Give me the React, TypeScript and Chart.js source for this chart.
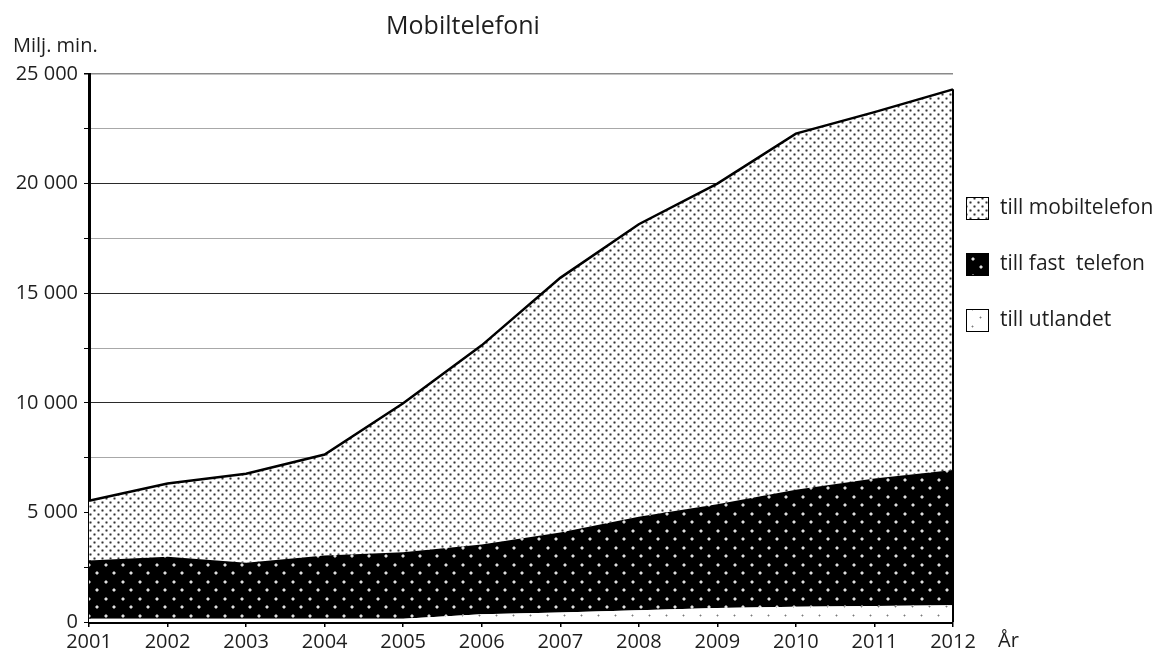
import React, { useEffect, useRef } from 'react';
import { Chart, registerables } from 'chart.js';

Chart.register(...registerables);

// ---- data ----
const years = ['2001', '2002', '2003', '2004', '2005', '2006', '2007', '2008', '2009', '2010', '2011', '2012'];
const utlandet = [150, 150, 150, 150, 150, 350, 430, 535, 640, 700, 730, 760];
const fastTelefon = [2650, 2830, 2550, 2880, 3030, 3180, 3650, 4270, 4730, 5330, 5820, 6180];
const mobiltelefon = [2730, 3340, 4060, 4610, 6800, 9090, 11620, 13340, 14630, 16250, 16710, 17360];
const seriesLabels = ['till utlandet', 'till fast  telefon', 'till mobiltelefon'];
const titleText = 'Mobiltelefoni';
const yUnitText = 'Milj. min.';
const xUnitText = 'År';
const yMax = 25000;
const yStep = 2500;
const yLabelStep = 5000;

const FONT = '"Open Sans", "DejaVu Sans", sans-serif';
const TEXT = '#1e1e1e';

function makePattern(
  size: number,
  bg: string,
  dots: [number, number][],
  center: string,
  halo: string,
  corner: string | null,
  big: boolean
): CanvasPattern | string {
  const c = document.createElement('canvas');
  c.width = size;
  c.height = size;
  const g = c.getContext('2d');
  if (!g) return bg;
  g.fillStyle = bg;
  g.fillRect(0, 0, size, size);
  for (const [x, y] of dots) {
    if (corner) {
      g.fillStyle = corner;
      g.fillRect(x - 1, y - 1, big ? 4 : 3, big ? 4 : 3);
    }
    g.fillStyle = halo;
    g.fillRect(x - 1, y, big ? 4 : 3, big ? 2 : 1);
    g.fillRect(x, y - 1, big ? 2 : 1, big ? 4 : 3);
    g.fillStyle = center;
    g.fillRect(x, y, big ? 2 : 1, big ? 2 : 1);
  }
  const p = g.createPattern(c, 'repeat');
  return p || bg;
}

export default function App() {
  const ref = useRef<HTMLCanvasElement | null>(null);

  useEffect(() => {
    const canvas = ref.current;
    if (!canvas) return;
    const ctx = canvas.getContext('2d');
    if (!ctx) return;

    const patMob = makePattern(8, '#ffffff', [[2, 2], [6, 6]], '#333333', '#909090', '#d2d2d2', false);
    const patFast = makePattern(17, '#000000', [[3, 3], [11, 11]], '#e0e0e0', '#6a6a6a', null, true);
    const patUtl = makePattern(17, '#ffffff', [[3, 3], [11, 11]], '#7a7a7a', '#c4c4c4', null, false);
    const legendFills = [patUtl, patFast, patMob];

    const overlay = {
      id: 'overlay',
      afterDatasetsDraw(chart: any) {
        const c = chart.ctx;
        const xs = chart.scales.x;
        const ys = chart.scales.y;
        const last = years.length - 1;
        const total = utlandet[last] + fastTelefon[last] + mobiltelefon[last];
        const x = xs.getPixelForValue(last);
        c.save();
        c.strokeStyle = '#000';
        c.lineWidth = 2;
        c.beginPath();
        c.moveTo(x, ys.getPixelForValue(total));
        c.lineTo(x, ys.getPixelForValue(0));
        c.stroke();
        c.restore();
      },
      afterDraw(chart: any) {
        const c = chart.ctx;
        const a = chart.chartArea;
        c.save();
        c.fillStyle = TEXT;
        c.textBaseline = 'middle';
        // title
        c.font = `25px ${FONT}`;
        c.textAlign = 'center';
        c.fillText(titleText, a.left + 374, a.top - 47);
        // y unit
        c.font = `20px ${FONT}`;
        c.textAlign = 'left';
        c.fillText(yUnitText, 13, a.top - 28);
        // x unit
        c.fillText(xUnitText, a.right + 45, a.bottom + 19);
        // legend (top to bottom: mobil, fast, utlandet)
        const order = [2, 1, 0];
        order.forEach((di, i) => {
          const bx = a.right + 13;
          const by = a.top + 123 + i * 56;
          c.fillStyle = legendFills[di] as any;
          c.fillRect(bx, by, 22, 22);
          c.strokeStyle = '#000';
          c.lineWidth = 1;
          c.strokeRect(bx + 0.5, by + 0.5, 22, 22);
          c.fillStyle = TEXT;
          c.font = `21px ${FONT}`;
          c.textAlign = 'left';
          c.fillText(seriesLabels[di], a.right + 47, by + 11);
        });
        c.restore();
      },
    };

    const chart = new Chart(ctx, {
      type: 'line',
      data: {
        labels: years,
        datasets: [
          {
            label: seriesLabels[0],
            data: utlandet,
            fill: 'origin',
            backgroundColor: patUtl as any,
            borderWidth: 0,
            borderColor: 'rgba(0,0,0,0)',
            pointRadius: 0,
            tension: 0,
          },
          {
            label: seriesLabels[1],
            data: fastTelefon,
            fill: '-1',
            backgroundColor: patFast as any,
            borderWidth: 0,
            borderColor: 'rgba(0,0,0,0)',
            pointRadius: 0,
            tension: 0,
          },
          {
            label: seriesLabels[2],
            data: mobiltelefon,
            fill: '-1',
            backgroundColor: patMob as any,
            borderWidth: 2.5,
            borderColor: '#000',
            pointRadius: 0,
            tension: 0,
          },
        ],
      },
      options: {
        responsive: false,
        animation: false,
        events: [],
        layout: { padding: { left: 0, top: 74, right: 206, bottom: 0 } },
        plugins: {
          legend: { display: false },
          title: { display: false },
          tooltip: { enabled: false },
        },
        scales: {
          x: {
            type: 'category',
            offset: false,
            grid: {
              drawOnChartArea: false,
              drawTicks: true,
              tickLength: 5,
              color: '#000',
              lineWidth: 1.5,
            },
            border: { color: '#000', width: 3 },
            ticks: {
              color: TEXT,
              font: { family: FONT, size: 20 },
              padding: 3,
              maxRotation: 0,
              autoSkip: false,
            },
            afterFit: (s: any) => {
              s.height = 33;
            },
          },
          y: {
            stacked: true,
            min: 0,
            max: yMax,
            grid: {
              color: (c: any) => {
                const v = c.tick ? c.tick.value : 0;
                if (v === yMax) return '#8a8a8a';
                return v % yLabelStep === 0 ? '#2a2a2a' : '#a8a8a8';
              },
              lineWidth: (c: any) => {
                const v = c.tick ? c.tick.value : 0;
                return v === yMax ? 1.5 : 1;
              },
              tickColor: '#000',
              tickLength: 5,
              drawTicks: true,
            },
            border: { color: '#000', width: 3 },
            ticks: {
              stepSize: yStep,
              color: TEXT,
              font: { family: FONT, size: 20 },
              padding: 6,
              callback: (v: any) => {
                const n = Number(v);
                if (n % yLabelStep !== 0) return '';
                if (n === 0) return '0';
                return `${n / 1000} 000`;
              },
            },
            afterFit: (s: any) => {
              s.width = 89;
            },
          },
        },
      },
      plugins: [overlay],
    });

    return () => {
      chart.destroy();
    };
  }, []);

  return (
    <div style={{ position: 'fixed', left: 0, top: 0, width: 1159, height: 655, background: '#fff' }}>
      <canvas ref={ref} width={1159} height={655} style={{ display: 'block' }} />
    </div>
  );
}
